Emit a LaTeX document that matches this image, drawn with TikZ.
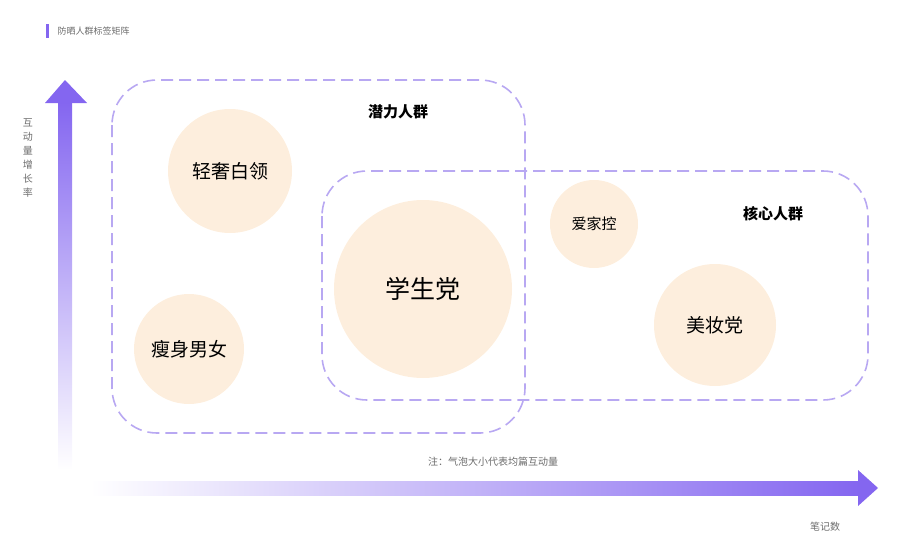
\documentclass[tikz,border=0pt]{standalone}
\usepackage{fontspec}
\setmainfont{Noto Sans CJK SC}
\begin{document}
\begin{tikzpicture}[x=1pt,y=-1pt,
  bub/.style={circle,fill=bubf,inner sep=0pt,font=\fontsize{19}{20}\selectfont},
  grp/.style={draw=dashc,line width=1.6pt,dash pattern=on 12pt off 6pt,rounded corners=45pt},
  glab/.style={font=\bfseries\fontsize{15}{16}\selectfont},
  gray/.style={text=gray!85!black}]
\definecolor{bubf}{HTML}{FDEEDD}
\definecolor{dashc}{HTML}{B8A8F2}
\definecolor{pur}{HTML}{8466F0}
\useasboundingbox (0,0) rectangle (910,551);
\fill[pur] (46,24) rectangle (49,38);
\node[gray,anchor=west,font=\fontsize{9}{10}\selectfont] (title) at (54,31) {防晒人群标签矩阵};
% y axis
\shade[top color=pur,bottom color=white] (58,102) rectangle (72,470);
\fill[pur] (45,103) -- (65,80) -- (87,103) -- cycle;
\node[gray,font=\fontsize{10}{14}\selectfont,align=center] (ylab) at (28,158) {互\\动\\量\\增\\长\\率};
% x axis
\shade[left color=white,right color=pur] (90,481) rectangle (860,495);
\fill[pur] (858,470) -- (878,488) -- (858,506) -- cycle;
\node[gray,font=\fontsize{10}{12}\selectfont] (xlab) at (825,527) {笔记数};
\node[gray,font=\fontsize{10}{12}\selectfont] (note) at (493,462) {注：气泡大小代表均篇互动量};
% groups
\draw[grp] (112,80) rectangle (525,433);
\draw[grp] (322,171) rectangle (868,400);
\node[glab] (g1) at (398,112) {潜力人群};
\node[glab] (g2) at (773,214) {核心人群};
% bubbles
\node[bub,minimum size=124pt] (a) at (230,171) {轻奢白领};
\node[bub,minimum size=110pt] (b) at (189,349) {瘦身男女};
\node[bub,minimum size=178pt,font=\fontsize{25}{26}\selectfont] (c) at (423,289) {学生党};
\node[bub,minimum size=88pt,font=\fontsize{15}{16}\selectfont] (d) at (594,224) {爱家控};
\node[bub,minimum size=122pt] (e) at (715,325) {美妆党};
\end{tikzpicture}
\end{document}
